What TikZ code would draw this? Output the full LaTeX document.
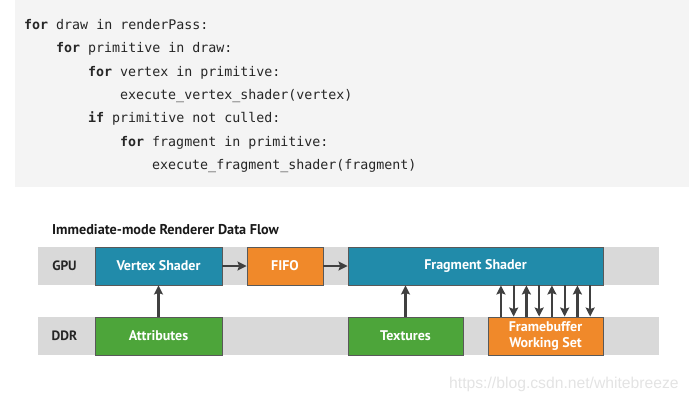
\documentclass[tikz,border=0pt]{standalone}
\usepackage{fontspec}
\usepackage{xcolor}
\usepackage{tikz}
\usetikzlibrary{positioning, arrows.meta}
\setsansfont{PT Sans}
\newfontfamily\codefont{DejaVu Sans Mono}
\newfontfamily\urlfont{Liberation Sans}
\definecolor{codeBg}{RGB}{244, 244, 244}
\definecolor{laneGray}{RGB}{217, 217, 217}
\definecolor{shaderBlue}{RGB}{33, 139, 170}
\definecolor{fifoOrange}{RGB}{240, 137, 42}
\definecolor{memGreen}{RGB}{77, 165, 58}
\definecolor{edgeGray}{RGB}{89, 89, 89}
\definecolor{arrGray}{RGB}{64, 64, 64}
\newcommand{\kw}[1]{\textbf{#1}}

\begin{document}
\begin{tikzpicture}[x=1pt, y=-1pt,
        code/.style={anchor=base west, inner sep=0pt, font=\fontsize{13.3}{16}\codefont, text=black!85},
        lane/.style={rectangle, fill=laneGray, minimum height=38pt, minimum width=621pt, inner sep=0pt},
        lanelabel/.style={font=\fontsize{13.5}{15}\sffamily\bfseries, text=black!85},
        b/.style={rectangle, draw=edgeGray, line width=0.9pt, minimum height=38pt, align=center,
            text=white, inner sep=2pt, font=\fontsize{14}{15}\sffamily\bfseries},
        arr/.style={-{Stealth[length=9pt, width=9pt, inset=1.5pt]}, line width=2.2pt, arrGray}
    ]
    \useasboundingbox (0,0) rectangle (689,402);
    \fill[codeBg] (15,0) rectangle (689,187);
    \node[code] (l1) at (24,29.3) {\kw{for} draw in renderPass:};
    \node[code] (l2) at (56,52.6) {\kw{for} primitive in draw:};
    \node[code] (l3) at (88,76.0) {\kw{for} vertex in primitive:};
    \node[code] (l4) at (120,99.3) {execute\_vertex\_shader(vertex)};
    \node[code] (l5) at (88,122.6) {\kw{if} primitive not culled:};
    \node[code] (l6) at (120,146.0) {\kw{for} fragment in primitive:};
    \node[code] (l7) at (152,169.3) {execute\_fragment\_shader(fragment)};

    \node[anchor=west, inner sep=0pt, font=\fontsize{14.2}{16}\sffamily\bfseries, text=black!90] (title) at (52,229.5) {Immediate-mode Renderer Data Flow};

    % lanes
    \node[lane] (gpulane) at (348.5,266) {};
    \node[lane] (ddrlane) at (348.5,336) {};
    \node[lanelabel] (gpu) at (64.5,266) {GPU};
    \node[lanelabel] (ddr) at (64.5,336) {DDR};

    % GPU blocks
    \node[b, fill=shaderBlue, minimum width=127pt] (vs) at (158.5,266) {Vertex Shader};
    \node[b, fill=fifoOrange, minimum width=76pt] (fifo) at (285,266) {FIFO};
    \node[b, fill=shaderBlue, minimum width=255pt] (frag) at (475.5,266) {Fragment Shader};

    % DDR blocks
    \node[b, fill=memGreen, minimum width=127pt] (attr) at (158.5,336) {Attributes};
    \node[b, fill=memGreen, minimum width=115pt] (tex) at (405.5,336) {Textures};
    \node[b, fill=fifoOrange, minimum width=115pt, font=\fontsize{14}{15.5}\sffamily\bfseries] (fbuf) at (545.5,336) {Framebuffer\\Working Set};

    \draw[arr] (vs) -- (fifo);
    \draw[arr] (fifo) -- (frag);
    \draw[arr] (attr) -- (vs);
    \draw[arr] (tex.north) -- (tex.north |- frag.south);
    \foreach \dx in {-44.6,-19.1,6.4,31.9} {
        \draw[arr] ([xshift=\dx pt]fbuf.north) -- ([xshift=\dx pt]fbuf.north |- frag.south);
        \draw[arr] ([xshift=\dx pt+12.75pt]fbuf.north |- frag.south) -- ([xshift=\dx pt+12.75pt]fbuf.north);
    }

    \node[anchor=west, inner sep=0pt, font=\fontsize{15.7}{17}\urlfont, text=black!11] (url) at (449,384) {https://blog.csdn.net/whitebreeze};
\end{tikzpicture}
\end{document}
